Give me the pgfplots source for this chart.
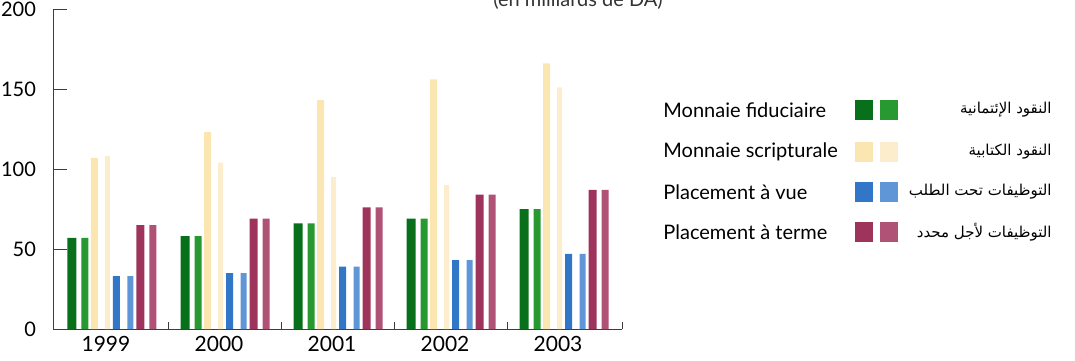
\documentclass[border=0pt]{standalone}
\usepackage{pgfplots}
\pgfplotsset{compat=1.18}
\usepackage{pgfplotstable}
\usepackage{fontspec}
\setmainfont{Lato}
\newfontfamily\arabicfont[Script=Arabic]{DejaVu Sans}
\TeXXeTstate=1
\definecolor{gdark}{RGB}{8,112,26}
\definecolor{glight}{RGB}{40,152,48}
\definecolor{ylw}{RGB}{251,230,178}
\definecolor{ylw2}{RGB}{252,238,205}
\definecolor{bdark}{RGB}{50,118,200}
\definecolor{blight}{RGB}{95,150,215}
\definecolor{pdark}{RGB}{158,52,92}
\definecolor{plight}{RGB}{176,82,118}
\definecolor{axgray}{RGB}{60,60,60}
\pgfplotstableread{
x green yelA yelB blue purple
0 57 107 108 33 65
1 58 123 104 35 69
2 66 143 95 39 76
3 69 156 90 43 84
4 75 166 151 47 87
}\datatable
\begin{document}
\begin{tikzpicture}
\begin{axis}[
  at={(26.5pt,15.5pt)}, anchor=south west,
  scale only axis, width=284.5pt, height=160pt,
  xmin=-0.522, xmax=4.513, ymin=0, ymax=200,
  axis x line=bottom, axis y line=left,
  axis line style={-, axgray, line width=0.5pt},
  ytick={0,50,100,150,200},
  tick align=inside, major tick length=7pt,
  ytick style={axgray, line width=0.4pt},
  yticklabel style={xshift=-5pt, font=\fontsize{10}{12}\selectfont},
  /pgf/number format/assume math mode=true,
  xtick={0,1,2,3,4},
  xticklabels={1999,2000,2001,2002,2003},
  xtick style={draw=none},
  xticklabel style={xshift=-3pt, font=\fontsize{10.5}{12}\selectfont},
  extra x ticks={0.5,1.5,2.5,3.5,4.513},
  extra x tick labels={},
  extra x tick style={xtick style={draw=axgray, line width=0.4pt}, major tick length=3.5pt},
  clip=false,
]
\addplot[ybar, bar width=4.5pt, bar shift=-20pt, fill=gdark, draw=none] table[x=x,y=green]{\datatable};
\addplot[ybar, bar width=3.5pt, bar shift=-13.5pt, fill=glight, draw=none] table[x=x,y=green]{\datatable};
\addplot[ybar, bar width=3.5pt, bar shift=-8.75pt, fill=ylw, draw=none] table[x=x,y=yelA]{\datatable};
\addplot[ybar, bar width=2.5pt, bar shift=-2.25pt, fill=ylw2, draw=none] table[x=x,y=yelB]{\datatable};
\addplot[ybar, bar width=3.5pt, bar shift=2.25pt, fill=bdark, draw=none] table[x=x,y=blue]{\datatable};
\addplot[ybar, bar width=3pt, bar shift=9.25pt, fill=blight, draw=none] table[x=x,y=blue]{\datatable};
\addplot[ybar, bar width=4pt, bar shift=14.25pt, fill=pdark, draw=none] table[x=x,y=purple]{\datatable};
\addplot[ybar, bar width=3.5pt, bar shift=20.5pt, fill=plight, draw=none] table[x=x,y=purple]{\datatable};
\end{axis}
% title (cut by the top edge, as in the reference)
\node[anchor=base, font=\fontsize{10}{12}\selectfont, text=black!80] at (289pt,177pt) {(en milliards de DA)};
% legend
\foreach \yy/\fr/\ar/\ca/\cb in {
  125/{Monnaie fiduciaire}/{النقود الإئتمانية}/gdark/glight,
  104/{Monnaie scripturale}/{النقود الكتابية}/ylw/ylw2,
  84/{Placement à vue}/{التوظيفات تحت الطلب}/bdark/blight,
  64/{Placement à terme}/{التوظيفات لأجل محدد}/pdark/plight}{
  \node[anchor=west, font=\fontsize{10}{12}\selectfont, inner sep=0pt] at (331.5pt,\yy pt) {\fr};
  \fill[\ca] (427.5pt,\yy pt-5pt) rectangle (436.5pt,\yy pt+5pt);
  \fill[\cb] (440pt,\yy pt-5pt) rectangle (449pt,\yy pt+5pt);
  \node[anchor=east, font=\arabicfont\fontsize{7.5}{9}\selectfont, inner sep=0pt] at (526pt,\yy pt) {\beginR\ar\endR};
}
\pgfresetboundingbox
\useasboundingbox (0,0) rectangle (537.5pt,180pt);
\end{tikzpicture}
\end{document}
